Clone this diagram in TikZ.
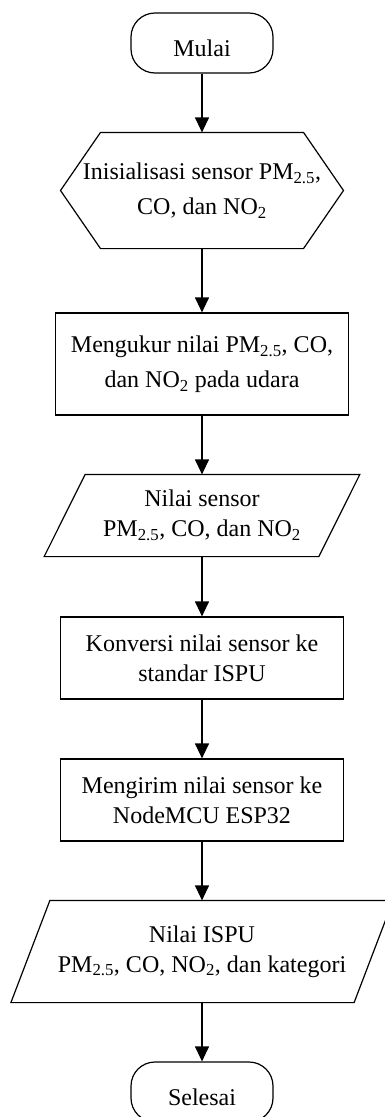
\documentclass[tikz,border=0pt]{standalone}
\usepackage{fontspec}
\setmainfont{Liberation Serif}
\usetikzlibrary{arrows.meta}
\tikzset{box/.style={draw,line width=1.2pt,align=center,inner sep=0pt,font=\fontsize{24}{30}\selectfont,
  execute at begin node={\rule{0pt}{28pt}}},
 term/.style={box,rectangle,rounded corners=24pt,minimum width=142pt,minimum height=60pt},
 proc/.style={box,rectangle,minimum width=283pt,minimum height=82pt},
 open/.style={box,draw=none,rectangle},
 outline/.style={line width=1.2pt,line join=miter},
 flow/.style={line width=1.2pt,-{Triangle[width=14pt,length=15pt]}}}
\newcommand{\pmsub}{PM\textsubscript{2.5}}
\newcommand{\nosub}{NO\textsubscript{2}}

\begin{document}
\begin{tikzpicture}[x=1pt,y=-1pt]
\useasboundingbox(0,0)rectangle(385,1117);
\node[term](mulai) at(202,43){Mulai};
\node[open,minimum height=115pt](init) at(202,190.5){Inisialisasi sensor \pmsub,\\[5pt]CO, dan \nosub};
\draw[outline]([xshift=-141.5pt]init.center)--([xshift=-101.5pt]init.north)--([xshift=101.5pt]init.north)
 --([xshift=141.5pt]init.center)--([xshift=101.5pt]init.south)--([xshift=-101.5pt]init.south)--cycle;
\node[proc,minimum width=293pt,minimum height=102pt](ukur) at(202,364){Mengukur nilai \pmsub, CO,\\[5pt]dan \nosub\ pada udara};
\node[open,minimum width=273.5pt,minimum height=81pt](nilai) at(202,515.5){Nilai sensor\\\pmsub, CO, dan \nosub};
\draw[outline]([xshift=20.5pt]nilai.north west)--([xshift=20.5pt]nilai.north east)
 --([xshift=-20.5pt]nilai.south east)--([xshift=-20.5pt]nilai.south west)--cycle;
\node[proc](konv) at(202,658){Konversi nilai sensor ke\\standar ISPU};
\node[proc](kirim) at(202,800){Mengirim nilai sensor ke\\NodeMCU ESP32};
\node[open,minimum width=342pt,minimum height=101pt](ispu) at(202,951.5){Nilai ISPU\\\pmsub, CO, \nosub, dan kategori};
\draw[outline]([xshift=19.5pt]ispu.north west)--([xshift=19.5pt]ispu.north east)
 --([xshift=-19.5pt]ispu.south east)--([xshift=-19.5pt]ispu.south west)--cycle;
\node[term](selesai) at(202,1092){Selesai};
\draw[flow](mulai)--(init);\draw[flow](init)--(ukur);\draw[flow](ukur)--(nilai);
\draw[flow](nilai)--(konv);\draw[flow](konv)--(kirim);\draw[flow](kirim)--(ispu);
\draw[flow](ispu)--(selesai);
\end{tikzpicture}
\end{document}
